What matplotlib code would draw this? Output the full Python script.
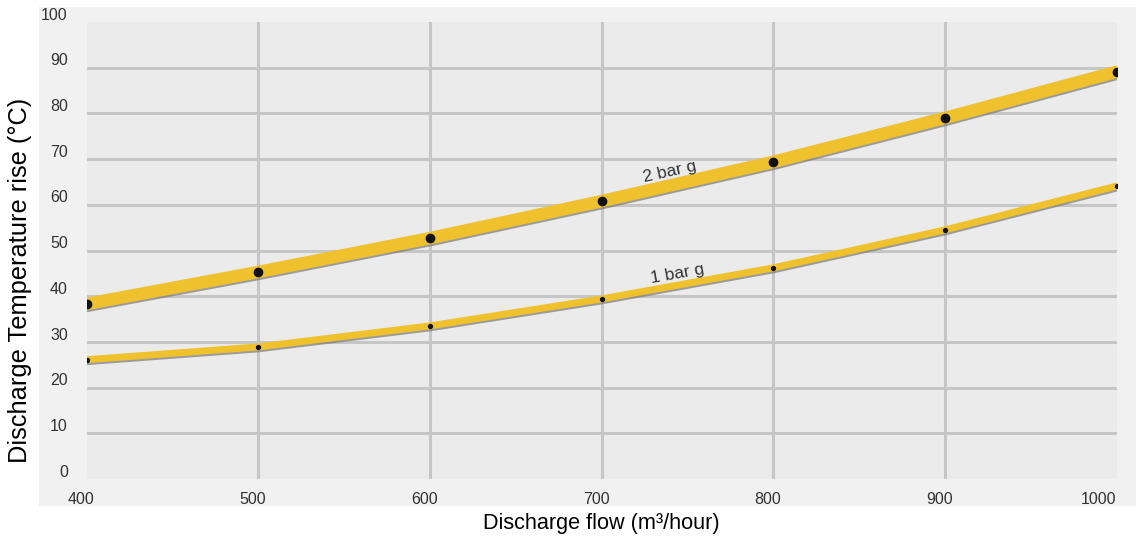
import matplotlib
matplotlib.use("Agg")
import matplotlib.pyplot as plt
import matplotlib.patheffects as pe
from matplotlib.patches import Rectangle
from matplotlib.transforms import ScaledTranslation

plt.rcParams['font.family'] = ['Liberation Sans', 'DejaVu Sans']

# data
flow = [400, 500, 600, 700, 800, 900, 1000]
rise_2bar = [38.3, 45.3, 52.7, 60.8, 69.4, 79.0, 89.1]
rise_1bar = [26.1, 28.9, 33.5, 39.4, 46.2, 54.5, 64.1]
x_ticks = [400, 500, 600, 700, 800, 900, 1000]
y_ticks = [0, 10, 20, 30, 40, 50, 60, 70, 80, 90, 100]

yellow = '#efc12c'
shadow = [pe.SimpleLineShadow(offset=(0.3, -1.4), shadow_color='#7a7a7a', alpha=0.7),
          pe.Normal()]

fig = plt.figure(figsize=(11.45, 5.43), dpi=100)
# light grey panel behind the whole chart
fig.patches.append(Rectangle((39 / 1145, 1 - 506 / 543), (1136 - 39) / 1145, (506 - 7) / 543,
                             transform=fig.transFigure, facecolor='#f1f1f1',
                             edgecolor='none', zorder=-5))

ax = fig.add_axes([86.5 / 1145, 1 - 479 / 543, (1116.5 - 86.5) / 1145, (479 - 22) / 543])
ax.set_facecolor('#ebebeb')
ax.set_xlim(400, 1000)
ax.set_ylim(0, 100)

# grid
for y in y_ticks[1:-1]:
    ax.axhline(y, color='#c6c6c6', lw=2.2, zorder=1)
for x in x_ticks[1:-1]:
    ax.axvline(x, color='#c6c6c6', lw=2.2, zorder=1)

ax.plot(flow, rise_2bar, color=yellow, lw=9, solid_capstyle='round', zorder=3,
        path_effects=shadow)
ax.plot(flow, rise_1bar, color=yellow, lw=5, solid_capstyle='round', zorder=3,
        path_effects=shadow)
ax.plot(flow, rise_2bar, 'o', color='#111111', ms=6, zorder=4)
ax.plot(flow, rise_1bar, 'o', color='#111111', ms=2.8, zorder=4)

ax.text(740, 67.2, '2 bar g', rotation=12.5, ha='center', va='center',
        fontsize=12.5, color='#333333', zorder=5)
ax.text(744, 44.8, '1 bar g', rotation=10, ha='center', va='center',
        fontsize=12.5, color='#333333', zorder=5)

for s in ax.spines.values():
    s.set_visible(False)
ax.set_xticks(x_ticks)
ax.set_yticks(y_ticks)
ax.tick_params(length=0, labelsize=11.5, labelcolor='#333333')
ax.tick_params(axis='y', pad=13.5)
ax.tick_params(axis='x', pad=9)
for lab in ax.get_yticklabels():
    lab.set_transform(lab.get_transform() + ScaledTranslation(0, 6 / 72, fig.dpi_scale_trans))
xl = ax.get_xticklabels()
for lab in xl[:-1]:
    lab.set_transform(lab.get_transform() + ScaledTranslation(-4 / 72, 0, fig.dpi_scale_trans))
xl[-1].set_horizontalalignment('right')

fig.text(20 / 1145, 1 - 280 / 543, 'Discharge Temperature rise (°C)', rotation=90,
         ha='center', va='center', fontsize=18.3)
fig.text(601 / 1145, 1 - 524 / 543, 'Discharge flow (m³/hour)',
         ha='center', va='center', fontsize=15.6)

fig.savefig('out.png', dpi=100, facecolor='white')
